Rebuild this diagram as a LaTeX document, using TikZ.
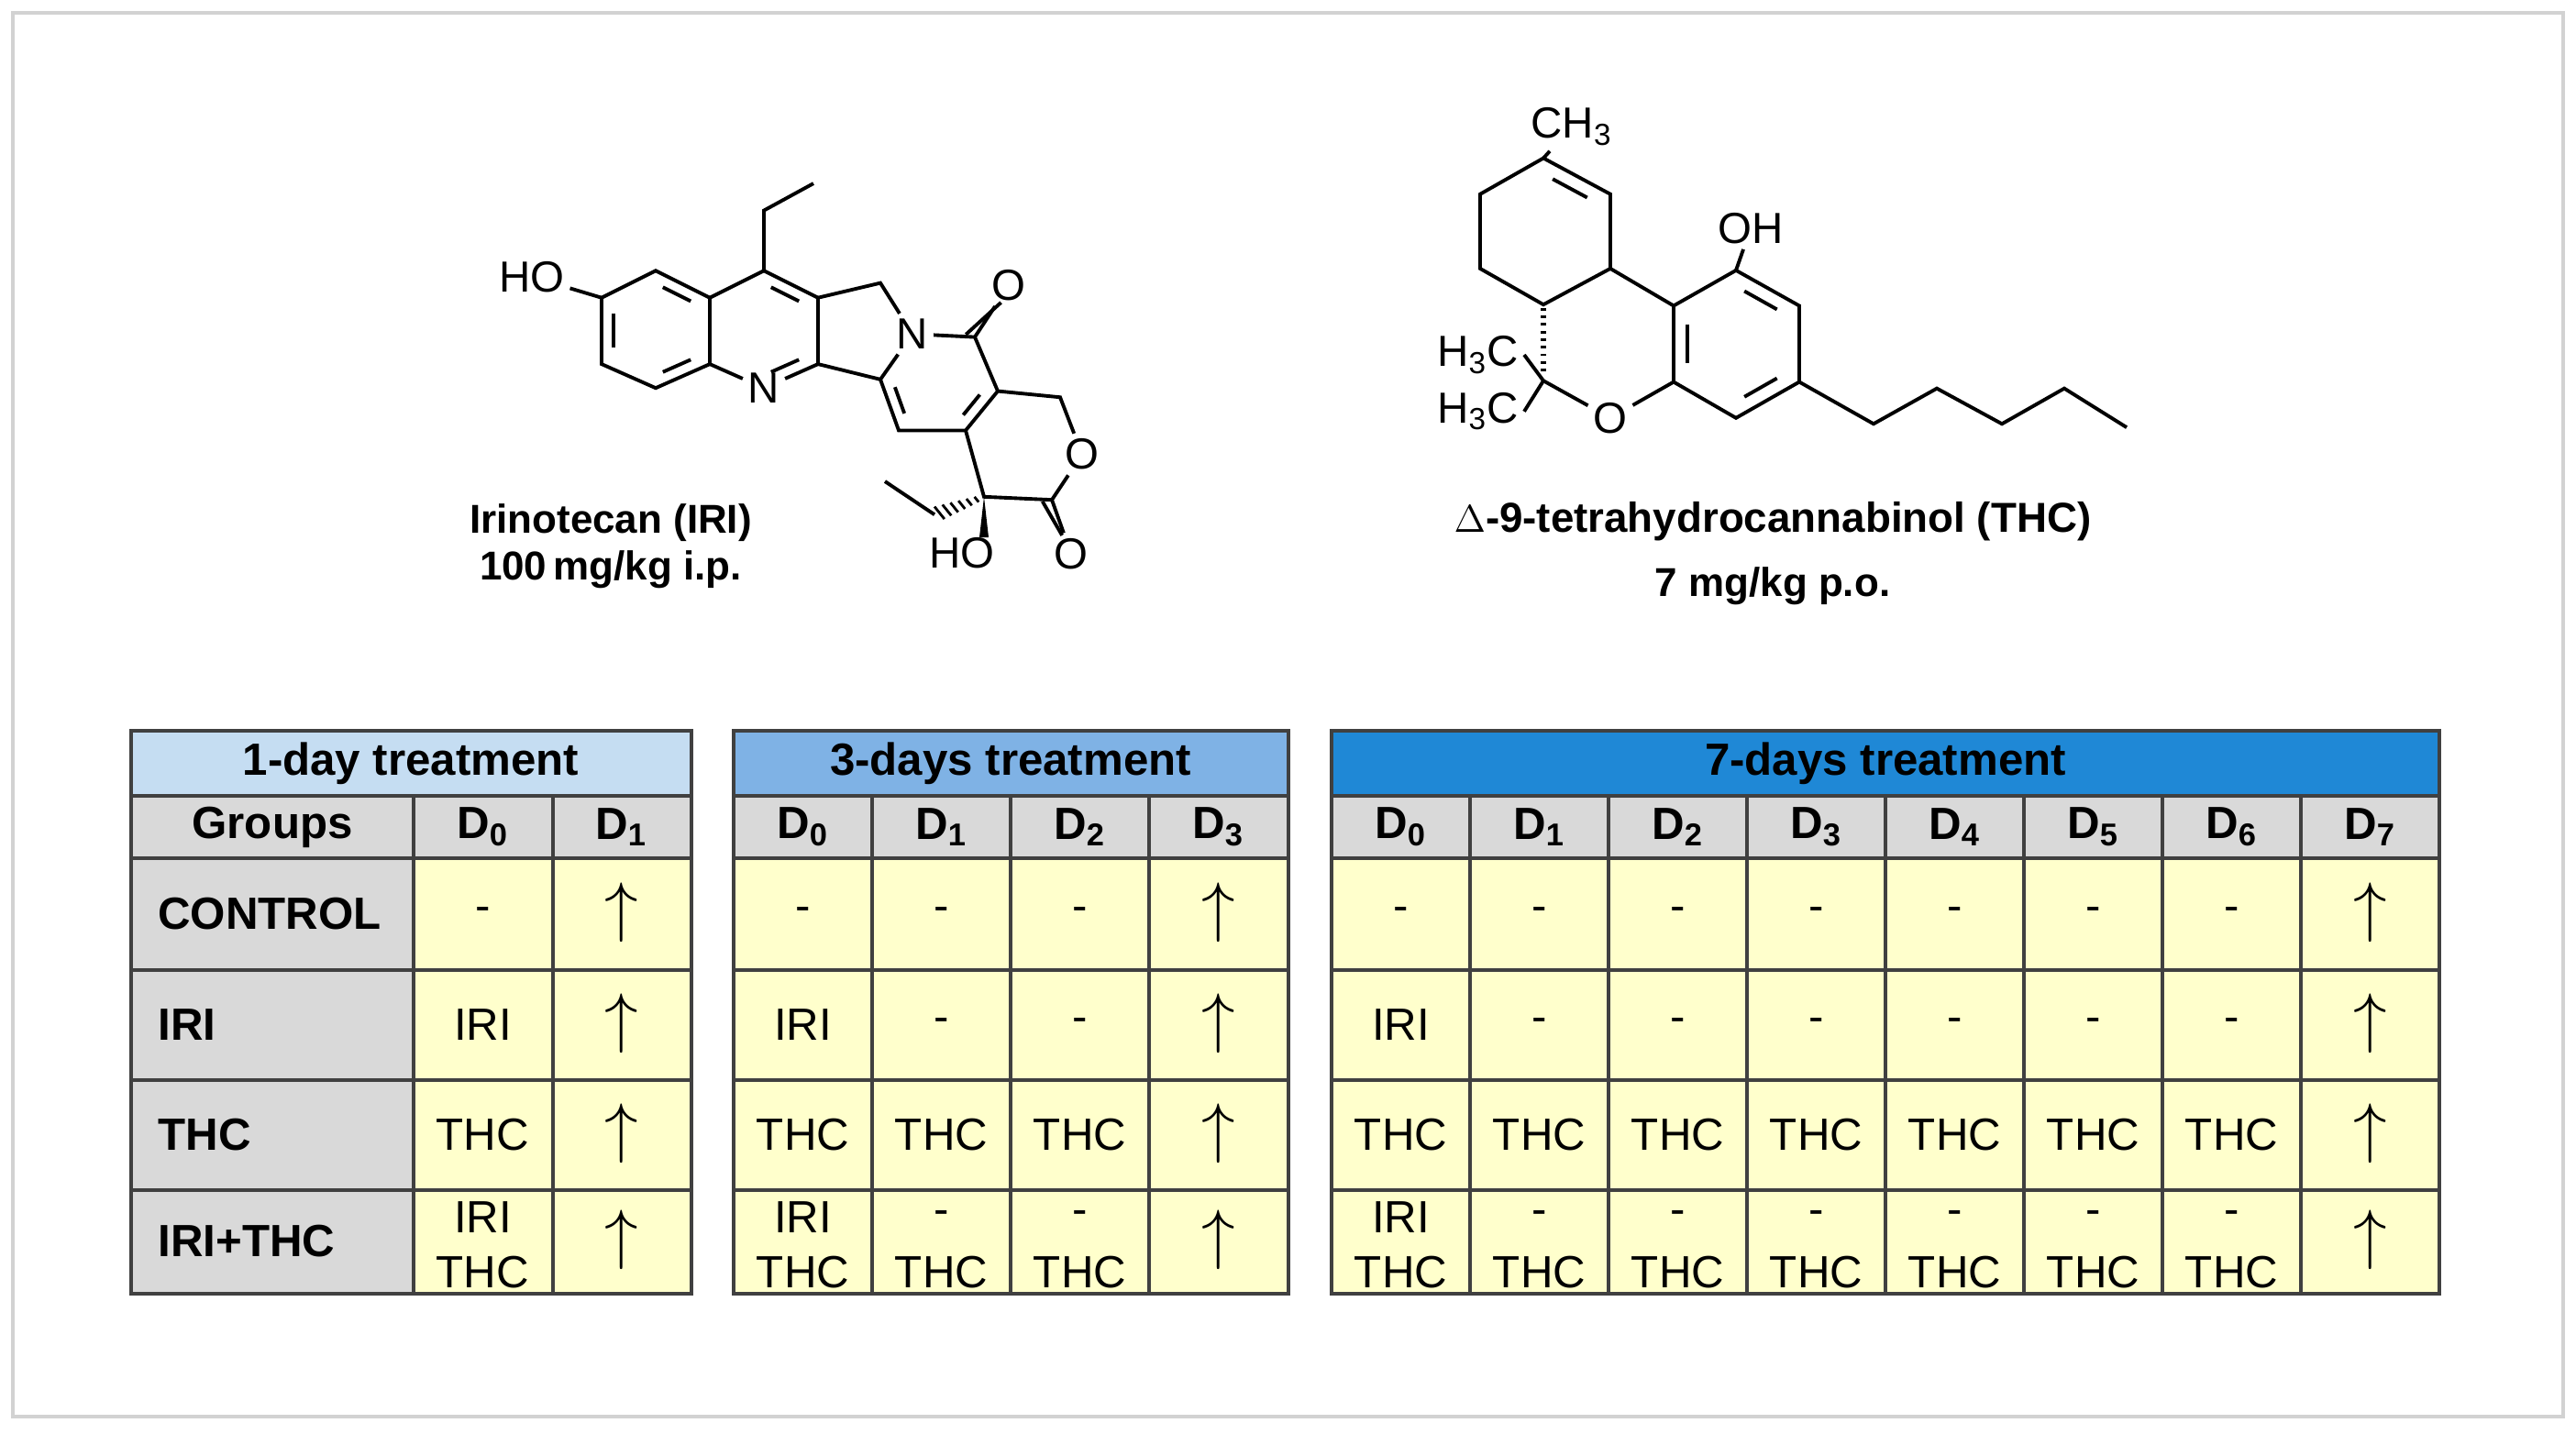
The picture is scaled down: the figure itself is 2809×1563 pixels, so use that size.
\documentclass[tikz,border=0pt]{standalone}
\usepackage{fontspec}
\setmainfont{Liberation Sans}
\usetikzlibrary{calc}
\definecolor{hdrA}{RGB}{197,221,242}
\definecolor{hdrB}{RGB}{127,178,229}
\definecolor{hdrC}{RGB}{31,136,214}
\definecolor{cellgray}{RGB}{217,217,217}
\definecolor{cellyel}{RGB}{255,255,204}
\definecolor{gridline}{RGB}{64,64,64}
\tikzset{
  bond/.style={line width=1.1pt},
  atom/.style={inner sep=1.5pt,font=\fontsize{13.5}{14}\selectfont},
  title/.style={font=\fontsize{12.5}{14}\selectfont\bfseries},
  hdr/.style={font=\fontsize{14}{16}\selectfont\bfseries},
  cell/.style={font=\fontsize{14}{16}\selectfont},
  grp/.style={anchor=west,font=\fontsize{14}{16}\selectfont\bfseries},
  uparr/.style={font=\fontsize{21}{21}\selectfont}
}
% inner line of a double bond, pulled toward ring centre
\newcommand\dbl[3]{\draw[bond] ($($(#1)!.17!(#2)$)!.22!(#3)$) -- ($($(#2)!.17!(#1)$)!.22!(#3)$);}
% day columns of one table
\newcommand\daycols[2]{%
  \foreach \d in {0,...,#2}{
    \pgfmathsetmacro\xc{#1+151*\d+75.5}
    \node[hdr] (d#1-\d) at (\xc,902) {D\textsubscript{\d}};
    \ifnum\d=#2
      \foreach \yy/\rr in {995/a,1116/b,1236/c,1352/d}
        \node[uparr] (u#1-\rr) at (\xc,\yy) {$\uparrow$};
    \else
      \node[cell] (c#1-\d) at (\xc,997) {-};
      \node[cell] (r#1-\d) at (\xc,1238) {THC};
      \ifnum\d=0
        \node[cell] (i#1-\d) at (\xc,1118) {IRI};
        \node[cell] (p#1-\d) at (\xc,1328) {IRI};
      \else
        \node[cell] (i#1-\d) at (\xc,1118) {-};
        \node[cell] (p#1-\d) at (\xc,1328) {-};
      \fi
      \node[cell] (q#1-\d) at (\xc,1388) {THC};
    \fi
  }}
% frame of one table
\newcommand\daygrid[3]{%
  \foreach \yy in {868,936,1058,1178,1298}
    \draw[gridline,line width=1.1pt] (#1,\yy) -- (#2,\yy);
  \foreach \xx in {#3}
    \draw[gridline,line width=1.1pt] (\xx,868) -- (\xx,1411);
  \draw[gridline,line width=1.3pt] (#1,797) rectangle (#2,1411);}

\begin{document}
\begin{tikzpicture}[x=0.01cm,y=-0.01cm]
\useasboundingbox (0,0) rectangle (2809,1563);
\fill[white] (0,0) rectangle (2809,1563);
\draw[gray!35,line width=1.3pt] (14,14) rectangle (2795,1545);

% irinotecan
\begin{scope}[shift={(0,56.7)},yscale=0.67]
\node[atom] (ho1) at (580,366) {HO};
\coordinate (a1) at (656,400);
\coordinate (a2) at (715,356);
\coordinate (a3) at (774,400);
\coordinate (a4) at (774,508);
\coordinate (a5) at (715,547);
\coordinate (a6) at (656,508);
\coordinate (acen) at (715,452);
\coordinate (b1) at (833,356);
\coordinate (b2) at (892,400);
\coordinate (b3) at (892,508);
\node[atom] (n1) at (833,547) {N};
\coordinate (bcen) at (833,452);
\coordinate (e1) at (833,258);
\coordinate (e2) at (887,214);
\coordinate (c1) at (960,376);
\node[atom] (n2) at (995,459) {N};
\coordinate (c2) at (960,533);
\coordinate (d1) at (1063,464);
\node[atom] (o1) at (1100,380) {O};
\coordinate (d2) at (1088,552);
\coordinate (d3) at (1053,616);
\coordinate (d4) at (980,616);
\coordinate (dcen) at (1020,540);
\coordinate (f1) at (1156,562);
\node[atom] (o2) at (1180,655) {O};
\coordinate (f2) at (1147,729);
\node[atom] (o3) at (1168,817) {O};
\coordinate (f3) at (1073,724);
\coordinate (f4) at (1073,790);
\node[atom] (ho2) at (1049,815) {HO};
\coordinate (g1) at (1019,753);
\coordinate (g2) at (965,699);
\draw[bond] (ho1) -- (a1);
\draw[bond] (a1) -- (a2) -- (a3) -- (a4) -- (a5) -- (a6) -- cycle;
\dbl{a2}{a3}{acen} \dbl{a1}{a6}{acen} \dbl{a4}{a5}{acen}
\draw[bond] (a3) -- (b1) -- (b2) -- (b3) -- (n1) -- (a4);
\dbl{b1}{b2}{bcen} \dbl{b3}{n1}{bcen}
\draw[bond] (b1) -- (e1) -- (e2);
\draw[bond] (b2) -- (c1) -- (n2) -- (c2) -- (b3);
\draw[bond] (n2) -- (d1) -- (d2) -- (d3) -- (d4) -- (c2);
\dbl{c2}{d4}{dcen} \dbl{d2}{d3}{dcen}
\draw[bond] (d1) -- (o1);
\draw[bond] ($(d1)!3pt!90:(o1)$) -- ($(o1.south)!3pt!-90:(d1)$);
\draw[bond] (d2) -- (f1) -- (o2) -- (f2) -- (f3) -- (d3);
\draw[bond] (f2) -- (o3);
\draw[bond] ($(f2)!3pt!-90:(o3)$) -- ($(o3.north)!3pt!90:(f2)$);
\fill ($(f3)$) -- ($(f4)+(-5,0)$) -- ($(f4)+(5,0)$) -- cycle;
\foreach \t in {0.15,0.3,...,0.95}{
  \pgfmathsetmacro\w{1+2.5*\t}
  \draw[line width=0.8pt] ($(f3)!\t!(g1)!\w pt!90:(g1)$) -- ($(f3)!\t!(g1)!\w pt!-90:(g1)$);}
\draw[bond] (g1) -- (g2);
\end{scope}
\node[title] (iriname) at (666,570) {Irinotecan (IRI)};
\node[title] (iridose) at (666,621) {100\,mg/kg i.p.};

% THC
\begin{scope}[shift={(0,25)},yscale=0.644]
\node[atom] (me) at (1714,176) {CH\textsubscript{3}};
\coordinate (t1) at (1683,229);
\coordinate (t2) at (1756,290);
\coordinate (t3) at (1756,416);
\coordinate (t4) at (1683,477);
\coordinate (t5) at (1614,416);
\coordinate (t6) at (1614,290);
\coordinate (tcen) at (1685,353);
\coordinate (s1) at (1825,479);
\coordinate (s2) at (1893,419);
\coordinate (s3) at (1962,479);
\coordinate (s4) at (1962,608);
\coordinate (s5) at (1893,669);
\coordinate (s6) at (1825,608);
\coordinate (scen) at (1893,543);
\node[atom] (oh) at (1909,348) {OH};
\node[atom] (o4) at (1756,669) {O};
\coordinate (gem) at (1683,606);
\node[atom,anchor=east] (me1) at (1662,562) {H\textsubscript{3}C};
\node[atom,anchor=east] (me2) at (1662,658) {H\textsubscript{3}C};
\coordinate (p1) at (2043,679);
\coordinate (p2) at (2112,619);
\coordinate (p3) at (2183,679);
\coordinate (p4) at (2251,619);
\coordinate (p5) at (2319,685);
\draw[bond] (me) -- (t1);
\draw[bond] (t1) -- (t2) -- (t3) -- (t4) -- (t5) -- (t6) -- cycle;
\dbl{t1}{t2}{tcen}
\draw[bond] (t3) -- (s1);
\draw[bond] (s1) -- (s2) -- (s3) -- (s4) -- (s5) -- (s6) -- cycle;
\dbl{s2}{s3}{scen} \dbl{s4}{s5}{scen} \dbl{s1}{s6}{scen}
\draw[bond] (s2) -- (oh);
\draw[bond] (s6) -- (o4) -- (gem);
\draw[bond] (gem) -- (me1.east);
\draw[bond] (gem) -- (me2.east);
\foreach \t in {0.06,0.16,...,0.96}
  \draw[line width=0.8pt] ($(t4)!\t!(gem)+(-3,0)$) -- ($(t4)!\t!(gem)+(3,0)$);
\draw[bond] (s4) -- (p1) -- (p2) -- (p3) -- (p4) -- (p5);
\end{scope}
\node[title,font=\fontsize{13}{15}\selectfont\bfseries] (thcname) at (1933,569) {$\Delta$-9-tetrahydrocannabinol (THC)};
\node[title] (thcdose) at (1933,639) {7 mg/kg p.o.};

% 1-day table
\fill[hdrA] (143,797) rectangle (754,868);
\fill[cellgray] (143,868) rectangle (754,936);
\fill[cellgray] (143,936) rectangle (451,1411);
\fill[cellyel] (451,936) rectangle (754,1411);
\node[hdr] (h1) at (448,833) {1-day treatment};
\node[hdr] (grp) at (297,902) {Groups};
\node[grp] (gctl) at (160,997) {CONTROL};
\node[grp] (giri) at (160,1118) {IRI};
\node[grp] (gthc) at (160,1238) {THC};
\node[grp] (gmix) at (160,1354) {IRI+THC};
\daycols{451}{1}
\daygrid{143}{754}{451,603}

% 3-days table
\fill[hdrB] (800,797) rectangle (1405,868);
\fill[cellgray] (800,868) rectangle (1405,936);
\fill[cellyel] (800,936) rectangle (1405,1411);
\node[hdr] (h3) at (1102,833) {3-days treatment};
\daycols{800}{3}
\daygrid{800}{1405}{951,1102,1253}

% 7-days table
\fill[hdrC] (1452,797) rectangle (2660,868);
\fill[cellgray] (1452,868) rectangle (2660,936);
\fill[cellyel] (1452,936) rectangle (2660,1411);
\node[hdr] (h7) at (2056,833) {7-days treatment};
\daycols{1452}{7}
\daygrid{1452}{2660}{1603,1754,1905,2056,2207,2358,2509}
\end{tikzpicture}
\end{document}
